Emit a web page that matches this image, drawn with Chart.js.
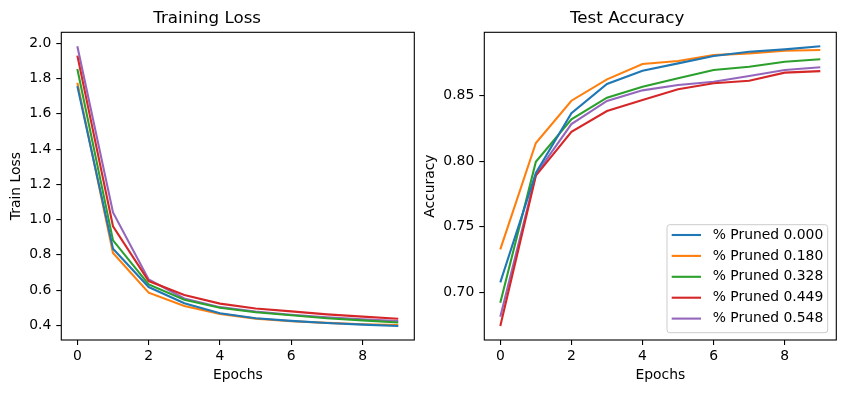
<!DOCTYPE html>
<html>
<head>
<meta charset="utf-8">
<title>Training Loss / Test Accuracy</title>
<script src="https://cdn.jsdelivr.net/npm/chart.js@4.4.0/dist/chart.umd.min.js"></script>
<style>
  html, body { margin: 0; padding: 0; background: #fff; }
  #wrap { position: relative; width: 846px; height: 393px; overflow: hidden; }
  .box { position: absolute; top: 0; height: 393px; }
  #left { left: 0; width: 418px; }
  #right { left: 418px; width: 428px; }
</style>
</head>
<body>
<div id="wrap">
  <div class="box" id="left"><canvas id="lossChart"></canvas></div>
  <div class="box" id="right"><canvas id="accChart"></canvas></div>
</div>
<script>
// data
var epochs = [0, 1, 2, 3, 4, 5, 6, 7, 8, 9];
var seriesNames = ['% Pruned 0.000', '% Pruned 0.180', '% Pruned 0.328', '% Pruned 0.449', '% Pruned 0.548'];
var seriesColors = ['#1f77b4', '#ff7f0e', '#2ca02c', '#d62728', '#9467bd'];

var loss000 = [1.757, 0.835, 0.617, 0.525, 0.468, 0.440, 0.425, 0.413, 0.404, 0.396];
var loss180 = [1.776, 0.810, 0.585, 0.510, 0.465, 0.438, 0.423, 0.414, 0.406, 0.401];
var loss328 = [1.854, 0.882, 0.632, 0.545, 0.500, 0.474, 0.457, 0.440, 0.428, 0.416];
var loss449 = [1.930, 0.962, 0.651, 0.572, 0.523, 0.495, 0.479, 0.462, 0.449, 0.437];
var loss548 = [1.983, 1.040, 0.660, 0.552, 0.503, 0.478, 0.460, 0.446, 0.434, 0.424];

var acc000 = [0.7076, 0.7910, 0.8366, 0.8590, 0.8690, 0.8747, 0.8803, 0.8836, 0.8854, 0.8877];
var acc180 = [0.7328, 0.8139, 0.8462, 0.8625, 0.8742, 0.8765, 0.8810, 0.8823, 0.8843, 0.8849];
var acc328 = [0.6920, 0.7996, 0.8320, 0.8485, 0.8569, 0.8633, 0.8696, 0.8721, 0.8759, 0.8778];
var acc449 = [0.6743, 0.7890, 0.8225, 0.8383, 0.8467, 0.8549, 0.8595, 0.8614, 0.8676, 0.8688];
var acc548 = [0.6814, 0.7900, 0.8284, 0.8460, 0.8541, 0.8582, 0.8607, 0.8650, 0.8696, 0.8717];

var epochTicks = [0, 2, 4, 6, 8];
var lossTicks = [0.4, 0.6, 0.8, 1.0, 1.2, 1.4, 1.6, 1.8, 2.0];
var accTicks = [0.70, 0.75, 0.80, 0.85];

Chart.defaults.font.family = "'DejaVu Sans', sans-serif";
Chart.defaults.font.size = 13.9;
Chart.defaults.color = '#000';

function makeDatasets(list) {
  return list.map(function (arr, i) {
    return {
      label: seriesNames[i],
      data: epochs.map(function (e, j) { return { x: e, y: arr[j] }; }),
      borderColor: seriesColors[i],
      backgroundColor: seriesColors[i],
      borderWidth: 2.1,
      pointRadius: 0,
      tension: 0,
      fill: false
    };
  });
}

// black box round the plot area
var frame = {
  id: 'frame',
  afterDatasetsDraw: function (chart) {
    var a = chart.chartArea, ctx = chart.ctx;
    ctx.save();
    ctx.strokeStyle = '#000';
    ctx.lineWidth = 1.1;
    ctx.strokeRect(a.left, a.top, a.right - a.left, a.bottom - a.top);
    ctx.restore();
  }
};

// matplotlib-like legend in the lower right corner
var boxLegend = {
  id: 'boxLegend',
  afterDraw: function (chart) {
    var a = chart.chartArea, ctx = chart.ctx;
    var sets = chart.data.datasets;
    ctx.save();
    ctx.font = "13.9px 'DejaVu Sans', sans-serif";
    var tw = 0;
    sets.forEach(function (d) { tw = Math.max(tw, ctx.measureText(d.label).width); });
    var w = 4.7 + 29.3 + 11.7 + tw + 4.4;
    var h = 108;
    var x0 = a.right - 8.6 - w;
    var y0 = a.bottom - 7.3 - h;
    ctx.beginPath();
    ctx.roundRect(x0, y0, w, h, 2.8);
    ctx.fillStyle = 'rgba(255,255,255,0.8)';
    ctx.fill();
    ctx.strokeStyle = '#cccccc';
    ctx.lineWidth = 1;
    ctx.stroke();
    sets.forEach(function (d, i) {
      var y = y0 + 10.3 + i * 20.9;
      ctx.beginPath();
      ctx.moveTo(x0 + 4.7, y);
      ctx.lineTo(x0 + 34, y);
      ctx.strokeStyle = d.borderColor;
      ctx.lineWidth = 2.1;
      ctx.stroke();
      ctx.fillStyle = '#000';
      ctx.textBaseline = 'middle';
      ctx.textAlign = 'left';
      ctx.fillText(d.label, x0 + 45.7, y);
    });
    ctx.restore();
  }
};

function makeOptions(opt) {
  return {
    responsive: true,
    maintainAspectRatio: false,
    animation: false,
    layout: { padding: { left: 0, right: opt.rightPad, top: 0, bottom: 0 } },
    plugins: {
      legend: { display: false },
      tooltip: { enabled: false },
      title: {
        display: true,
        text: opt.title,
        font: { size: 16.7, weight: 'normal' },
        color: '#000',
        padding: { top: 8.3, bottom: 3.96 }
      }
    },
    scales: {
      x: {
        type: 'linear',
        min: -0.45,
        max: 9.45,
        afterFit: function (s) { s.height = 53; },
        afterBuildTicks: function (s) {
          s.ticks = epochTicks.map(function (v) { return { value: v }; });
        },
        ticks: {
          padding: 3.3,
          maxRotation: 0,
          callback: function (v) { return String(v); }
        },
        grid: { display: true, drawOnChartArea: false, drawTicks: true, tickLength: 5, color: '#000', lineWidth: 1.1 },
        border: { display: false },
        title: { display: true, text: 'Epochs', padding: { top: 0, bottom: 9.5 } }
      },
      y: {
        type: 'linear',
        min: opt.yMin,
        max: opt.yMax,
        afterFit: function (s) { s.width = opt.yWidth; },
        afterBuildTicks: function (s) {
          s.ticks = opt.yTicks.map(function (v) { return { value: v }; });
        },
        ticks: {
          padding: 5,
          callback: function (v) { return v.toFixed(opt.digits); }
        },
        grid: { display: true, drawOnChartArea: false, drawTicks: true, tickLength: 5, color: '#000', lineWidth: 1.1 },
        border: { display: false },
        title: { display: true, text: opt.yTitle, padding: { top: opt.yTitlePad, bottom: 0 } }
      }
    }
  };
}

new Chart(document.getElementById('lossChart'), {
  type: 'line',
  data: { datasets: makeDatasets([loss000, loss180, loss328, loss449, loss548]) },
  options: makeOptions({
    title: 'Training Loss', yTitle: 'Train Loss',
    yMin: 0.3166, yMax: 2.0625, yTicks: lossTicks, digits: 1,
    yWidth: 61.3, rightPad: 3.7, yTitlePad: 7.8
  }),
  plugins: [frame]
});

new Chart(document.getElementById('accChart'), {
  type: 'line',
  data: { datasets: makeDatasets([acc000, acc180, acc328, acc449, acc548]) },
  options: makeOptions({
    title: 'Test Accuracy', yTitle: 'Accuracy',
    yMin: 0.6636, yMax: 0.8984, yTicks: accTicks, digits: 2,
    yWidth: 66.3, rightPad: 9.7, yTitlePad: 3.6
  }),
  plugins: [frame, boxLegend]
});
</script>
</body>
</html>
